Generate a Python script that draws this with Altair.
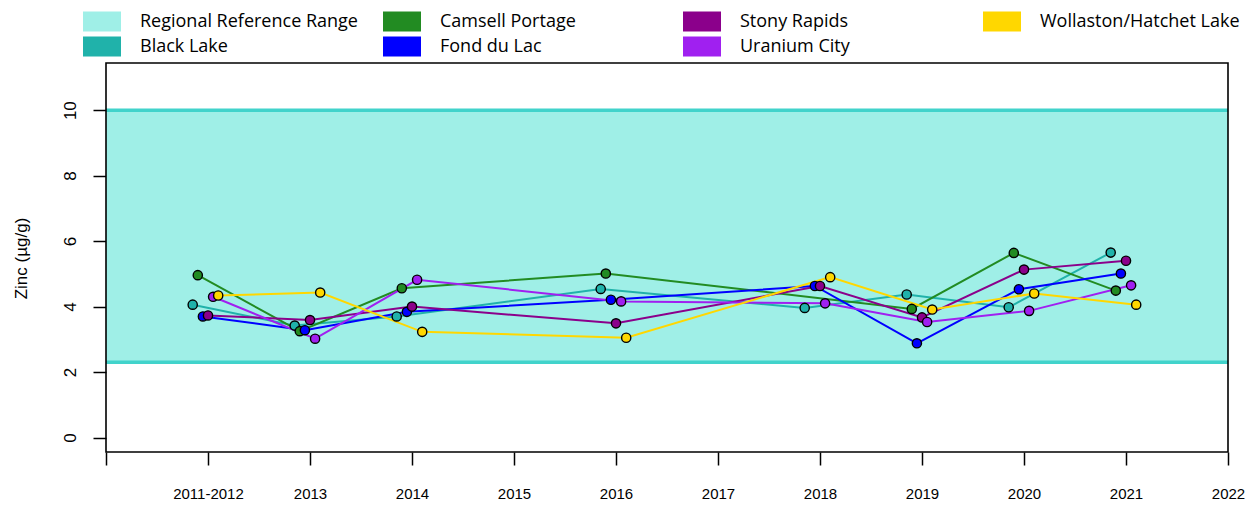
import altair as alt
import pandas as pd

# ---------------- data ----------------
periods = ["2011-2012", "2013", "2014", "2016", "2018", "2019", "2020", "2021"]
axis_labels = ["", "2011-2012", "2013", "2014", "2015", "2016", "2017",
               "2018", "2019", "2020", "2021", "2022"]
sites = ["Black Lake", "Camsell Portage", "Fond du Lac", "Stony Rapids",
         "Uranium City", "Wollaston/Hatchet Lake"]

black_lake = [4.06, 3.42, 3.70, 4.54, 3.96, 4.37, 3.98, 5.65]
camsell_portage = [4.96, 3.25, 4.56, 5.01, None, 3.93, 5.64, 4.49]
fond_du_lac = [3.70, 3.28, 3.84, 4.21, 4.63, 2.88, 4.53, 5.01]
stony_rapids = [3.73, 3.59, 4.00, 3.49, 4.63, 3.67, 5.13, 5.40]
uranium_city = [4.30, 3.02, 4.82, 4.16, 4.10, 3.53, 3.87, 4.65]
wollaston = [4.34, 4.43, 3.23, 3.05, 4.90, 3.91, 4.40, 4.06]
site_values = [black_lake, camsell_portage, fond_du_lac, stony_rapids,
               uranium_city, wollaston]

ref_label = "Regional Reference Range"
ref_low, ref_high = 2.3, 10.0

# ---------------- styling ----------------
colors = {
    ref_label: "#9FEFE7",
    "Black Lake": "#20B2AA",
    "Camsell Portage": "#228B22",
    "Fond du Lac": "#0000FF",
    "Stony Rapids": "#8B008B",
    "Uranium City": "#A020F0",
    "Wollaston/Hatchet Lake": "#FFD700",
}
dodge = dict(zip(sites, [-0.15, -0.10, -0.05, 0.0, 0.05, 0.10]))
legend_order = [ref_label] + sites

rows = []
for site, vals in zip(sites, site_values):
    for p, v in zip(periods, vals):
        if v is None:
            continue
        rows.append({"site": site, "x": axis_labels.index(p) + dodge[site],
                     "zinc": v})
df = pd.DataFrame(rows)

x_max = len(axis_labels) - 1
y_lo, y_hi = -0.44, 11.44

band_df = pd.DataFrame([{"site": ref_label, "x0": 0, "x1": x_max,
                         "lo": ref_low, "hi": ref_high}])
rule_df = pd.DataFrame({"y": [ref_low, ref_high], "x0": [0, 0],
                        "x1": [x_max, x_max]})
frame_df = pd.DataFrame([{"x0": 0, "x1": x_max, "y0": y_lo, "y1": y_hi}])

label_expr = "[" + ",".join("'%s'" % s for s in axis_labels) + "][round(datum.value)]"

x_scale = alt.Scale(domain=[0, x_max], nice=False, zero=False)
y_scale = alt.Scale(domain=[y_lo, y_hi], nice=False, zero=False)

color_scale = alt.Scale(domain=legend_order,
                        range=[colors[s] for s in legend_order])

legend = alt.Legend(
    title=None, orient="none", legendX=-23, legendY=-51.5, columns=4,
    direction="vertical",
    gridAlign="all", columnPadding=25, rowPadding=5, padding=0,
    symbolType="M-1,-1L2.8,-1L2.8,1L-1,1Z", symbolSize=400,
    symbolStrokeWidth=0, symbolOpacity=1, labelOffset=37, labelLimit=400,
    labelFont="Open Sans", labelFontSize=18, labelColor="black",
)

x_axis = alt.Axis(
    title=None, values=list(range(len(axis_labels))), labelExpr=label_expr,
    domain=False, grid=False, tickSize=13, tickWidth=1.5, tickColor="black",
    labelFont="Liberation Sans", labelFontSize=15, labelColor="black",
    labelPadding=33, labelBaseline="alphabetic", labelAlign="center",
    labelFlush=False, labelOverlap=False,
)
y_axis = alt.Axis(
    title="Zinc (µg/g)", values=[0, 2, 4, 6, 8, 10], domain=False, grid=False,
    tickSize=13, tickWidth=1.5, tickColor="black",
    labelFont="Liberation Sans", labelFontSize=17, labelColor="black",
    labelAngle=270, labelAlign="center", labelBaseline="alphabetic",
    labelPadding=18,
    titleFont="Liberation Sans", titleFontSize=17, titleFontWeight="normal",
    titleColor="black", titleAngle=270, titleAlign="center",
    titleBaseline="alphabetic", titleX=-80, titleY=195,
)

band = alt.Chart(band_df).mark_rect().encode(
    x=alt.X("x0:Q", scale=x_scale, axis=x_axis),
    x2="x1:Q",
    y=alt.Y("lo:Q", scale=y_scale, axis=y_axis),
    y2="hi:Q",
    color=alt.Color("site:N", scale=color_scale, legend=legend),
)

rules = alt.Chart(rule_df).mark_rule(color="#41D3CB", strokeWidth=3.5).encode(
    x=alt.X("x0:Q", scale=x_scale),
    x2="x1:Q",
    y=alt.Y("y:Q", scale=y_scale),
)

lines = alt.Chart(df).mark_line(strokeWidth=2).encode(
    x=alt.X("x:Q", scale=x_scale),
    y=alt.Y("zinc:Q", scale=y_scale),
    color=alt.Color("site:N", scale=color_scale, legend=legend),
    detail="site:N",
)

points = alt.Chart(df).mark_point(
    filled=True, shape="circle", size=85, stroke="black", strokeWidth=1.4,
    opacity=1,
).encode(
    x=alt.X("x:Q", scale=x_scale),
    y=alt.Y("zinc:Q", scale=y_scale),
    color=alt.Color("site:N", scale=color_scale, legend=legend),
)

frame = alt.Chart(frame_df).mark_rect(
    fill="transparent", stroke="black", strokeWidth=1.6
).encode(
    x=alt.X("x0:Q", scale=x_scale),
    x2="x1:Q",
    y=alt.Y("y0:Q", scale=y_scale),
    y2="y1:Q",
)

chart = alt.layer(band, rules, lines, points, frame).properties(
    width=1122, height=389,
    autosize=alt.AutoSizeParams(type="none"),
    padding={"left": 98, "top": 55, "right": 18, "bottom": 52},
    background="white",
).configure_view(stroke=None)

chart.save("out.html", embed_options={"renderer": "svg", "actions": False})
